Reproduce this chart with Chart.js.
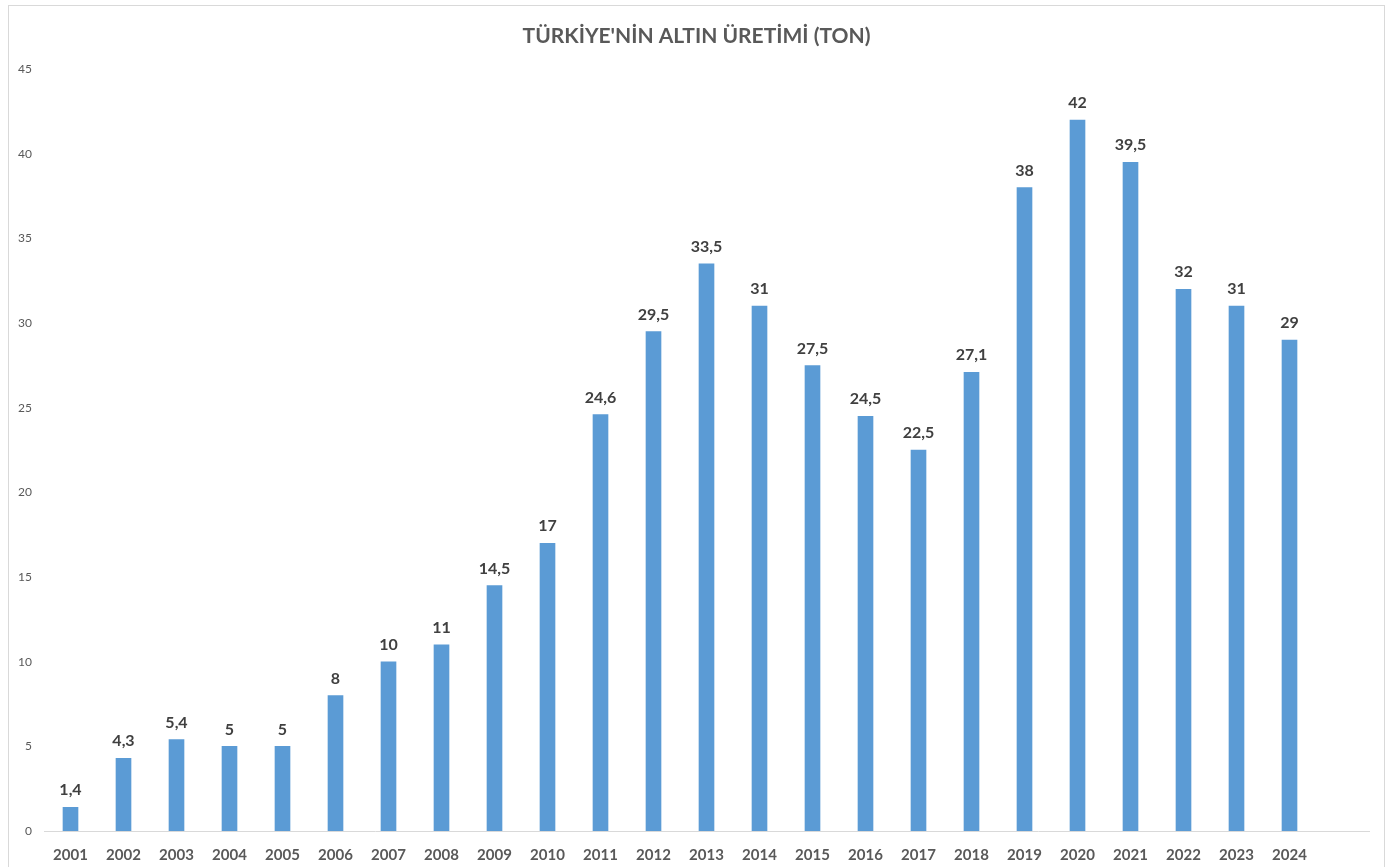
<!DOCTYPE html>
<html>
<head>
<meta charset="utf-8">
<script src="https://cdn.jsdelivr.net/npm/chart.js@4.4.1/dist/chart.umd.min.js"></script>
<style>
  body { margin: 0; background: #fff; }
  #frame { position: absolute; left: 8px; top: 5px; width: 1375px; height: 870px; border: 1px solid #d9d9d9; }
</style>
</head>
<body>
<div id="frame"><canvas id="chart" width="1375" height="870"></canvas></div>
<script>
// years, last slot is left empty as in the original sheet
var years = ["2001","2002","2003","2004","2005","2006","2007","2008","2009","2010","2011","2012",
             "2013","2014","2015","2016","2017","2018","2019","2020","2021","2022","2023","2024",""];
var tons = [1.4, 4.3, 5.4, 5, 5, 8, 10, 11, 14.5, 17, 24.6, 29.5,
            33.5, 31, 27.5, 24.5, 22.5, 27.1, 38, 42, 39.5, 32, 31, 29, null];
var yTicks = [0, 5, 10, 15, 20, 25, 30, 35, 40, 45];

var fontName = "Lato, 'Open Sans', sans-serif";

function fmt(v) {
  return String(v).replace('.', ',');
}

var valueLabels = {
  id: 'valueLabels',
  afterDatasetsDraw: function(chart) {
    var ctx = chart.ctx;
    var meta = chart.getDatasetMeta(0);
    ctx.save();
    ctx.font = 'bold 16px ' + fontName;
    ctx.fillStyle = '#404040';
    ctx.textAlign = 'center';
    ctx.textBaseline = 'bottom';
    meta.data.forEach(function(bar, i) {
      var v = tons[i];
      if (v === null) return;
      ctx.fillText(fmt(v), bar.x, bar.y - 9);
    });
    ctx.restore();
  }
};

new Chart(document.getElementById('chart'), {
  type: 'bar',
  data: {
    labels: years,
    datasets: [{
      label: 'Altın üretimi (ton)',
      data: tons,
      backgroundColor: '#5B9BD5',
      barThickness: 15
    }]
  },
  options: {
    responsive: false,
    animation: false,
    layout: { padding: 0 },
    plugins: {
      legend: { display: false },
      tooltip: { enabled: false },
      title: {
        display: true,
        text: "TÜRKİYE'NİN ALTIN ÜRETİMİ (TON)",
        color: '#595959',
        font: { family: fontName, size: 21, weight: 'bold' },
        padding: { top: 18, bottom: 20 }
      }
    },
    scales: {
      x: {
        grid: { display: false, drawTicks: false },
        border: { display: true, color: '#d9d9d9', width: 1 },
        ticks: {
          color: '#595959',
          font: { family: fontName, size: 15, weight: 'bold' },
          padding: 15,
          maxRotation: 0,
          autoSkip: false
        },
        afterFit: function(s) { s.height = 45; }
      },
      y: {
        min: 0,
        max: 45,
        grid: { display: false, drawTicks: false },
        border: { display: false },
        afterBuildTicks: function(s) { s.ticks = yTicks.map(function(v) { return { value: v }; }); },
        ticks: {
          color: '#595959',
          font: { family: fontName, size: 12 },
          padding: 12
        },
        afterFit: function(s) { s.width = 35; }
      },
      // empty spacer on the right so the title stays centred on the frame
      spacer: {
        position: 'right',
        min: 0,
        max: 45,
        grid: { display: false, drawTicks: false },
        border: { display: false },
        ticks: { display: false },
        afterFit: function(s) { s.width = 15; }
      }
    }
  },
  plugins: [valueLabels]
});
</script>
</body>
</html>
